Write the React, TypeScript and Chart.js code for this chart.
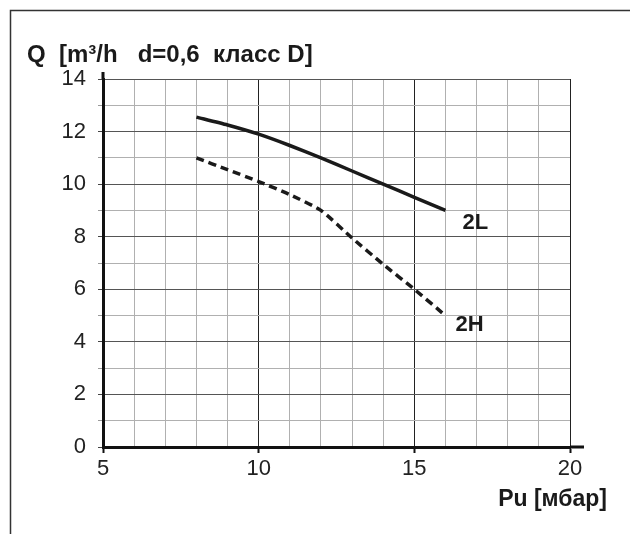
import React, { useEffect, useRef } from "react";
import { Chart, registerables } from "chart.js";

Chart.register(...registerables);

const pressure = [8, 9, 10, 11, 12, 13, 14, 15, 16];
const flow2L = [12.55, 12.25, 11.9, 11.47, 11.0, 10.5, 10.0, 9.5, 9.0];
const flow2H = [11.0, 10.55, 10.1, 9.6, 9.0, 7.95, 6.95, 6.0, 5.0];
const seriesNames = ["2L", "2H"];
const xMajorTicks = [5, 10, 15, 20];
const titleText = "Q  [m³/h   d=0,6  класс D]";
const xAxisText = "Pu [мбар]";

const FONT = "'Liberation Sans', Arial, Helvetica, sans-serif";

const decorPlugin = {
  id: "decor",
  afterDraw(chart: any) {
    const ctx = chart.ctx;
    const xs = chart.scales.x;
    const ys = chart.scales.y;
    const area = chart.chartArea;
    ctx.save();
    // outer frame
    ctx.strokeStyle = "#333";
    ctx.lineWidth = 1.5;
    ctx.beginPath();
    ctx.moveTo(10.5, chart.height);
    ctx.lineTo(10.5, 10.5);
    ctx.lineTo(chart.width, 10.5);
    ctx.stroke();
    // axis extensions
    ctx.strokeStyle = "#111";
    ctx.lineWidth = 3;
    ctx.beginPath();
    ctx.moveTo(area.left, area.top);
    ctx.lineTo(area.left, area.top - 7);
    ctx.moveTo(area.right, area.bottom);
    ctx.lineTo(area.right + 14, area.bottom);
    ctx.stroke();
    // texts
    ctx.fillStyle = "#1a1a1a";
    ctx.font = `bold 24px ${FONT}`;
    ctx.textBaseline = "alphabetic";
    ctx.textAlign = "left";
    ctx.fillText(titleText, 27, 62);
    ctx.font = `bold 23px ${FONT}`;
    ctx.textAlign = "right";
    ctx.fillText(xAxisText, 607, 506);
    // series labels
    ctx.font = `bold 22px ${FONT}`;
    ctx.textAlign = "left";
    const n = pressure.length - 1;
    ctx.fillText(seriesNames[0], xs.getPixelForValue(pressure[n]) + 17, ys.getPixelForValue(flow2L[n]) + 19);
    ctx.fillText(seriesNames[1], xs.getPixelForValue(pressure[n]) + 10, ys.getPixelForValue(flow2H[n]) + 15);
    ctx.restore();
  },
};

export default function App() {
  const ref = useRef<HTMLCanvasElement>(null);
  useEffect(() => {
    const canvas = ref.current;
    if (!canvas) return;
    const chart = new Chart(canvas, {
      type: "scatter",
      data: {
        datasets: [
          {
            label: seriesNames[0],
            data: pressure.map((p, i) => ({ x: p, y: flow2L[i] })),
            showLine: true,
            borderColor: "#1a1a1a",
            borderWidth: 3.5,
            pointRadius: 0,
            tension: 0.2,
            fill: false,
          },
          {
            label: seriesNames[1],
            data: pressure.map((p, i) => ({ x: p, y: flow2H[i] })),
            showLine: true,
            borderColor: "#1a1a1a",
            borderWidth: 3.5,
            borderDash: [8, 5],
            pointRadius: 0,
            tension: 0.2,
            fill: false,
          },
        ],
      },
      plugins: [decorPlugin],
      options: {
        animation: false,
        responsive: false,
        layout: { padding: { top: 79, right: 60, left: 0, bottom: 0 } },
        plugins: { legend: { display: false }, tooltip: { enabled: false }, title: { display: false } },
        scales: {
          x: {
            type: "linear",
            min: 5,
            max: 20,
            afterFit: (s: any) => {
              s.height = 87;
            },
            ticks: {
              stepSize: 1,
              autoSkip: false,
              maxRotation: 0,
              color: "#222",
              padding: 3,
              font: { family: FONT, size: 22 },
              callback: (v: any) => (xMajorTicks.includes(Number(v)) ? String(v) : ""),
            },
            grid: {
              lineWidth: 1,
              color: (c: any) => {
                const v = c.tick ? c.tick.value : 0;
                return v === 10 || v === 15 || v === 20 ? "#222" : "#b0b0b0";
              },
              tickColor: (c: any) => {
                const v = c.tick ? c.tick.value : 0;
                return xMajorTicks.includes(v) ? "#111" : "rgba(0,0,0,0)";
              },
              tickLength: 6,
              tickWidth: 2,
            },
            border: { display: true, color: "#111", width: 3 },
          },
          y: {
            type: "linear",
            min: 0,
            max: 14,
            afterFit: (s: any) => {
              s.width = 103;
            },
            ticks: {
              stepSize: 1,
              autoSkip: false,
              color: "#222",
              padding: 12,
              font: { family: FONT, size: 22 },
              callback: (v: any) => (Number(v) % 2 === 0 ? String(v) : ""),
            },
            grid: {
              lineWidth: 1,
              color: (c: any) => {
                const v = c.tick ? c.tick.value : 0;
                return v % 2 === 0 ? "#555" : "#b0b0b0";
              },
              tickColor: (c: any) => {
                const v = c.tick ? c.tick.value : 0;
                return v % 2 === 0 ? "#444" : "#999";
              },
              tickLength: 5,
            },
            border: { display: true, color: "#111", width: 3 },
          },
        },
      },
    } as any);
    return () => chart.destroy();
  }, []);
  return (
    <div style={{ position: "absolute", left: 0, top: 0, width: 630, height: 534, background: "#fff" }}>
      <canvas ref={ref} width={630} height={534} style={{ display: "block" }} />
    </div>
  );
}
